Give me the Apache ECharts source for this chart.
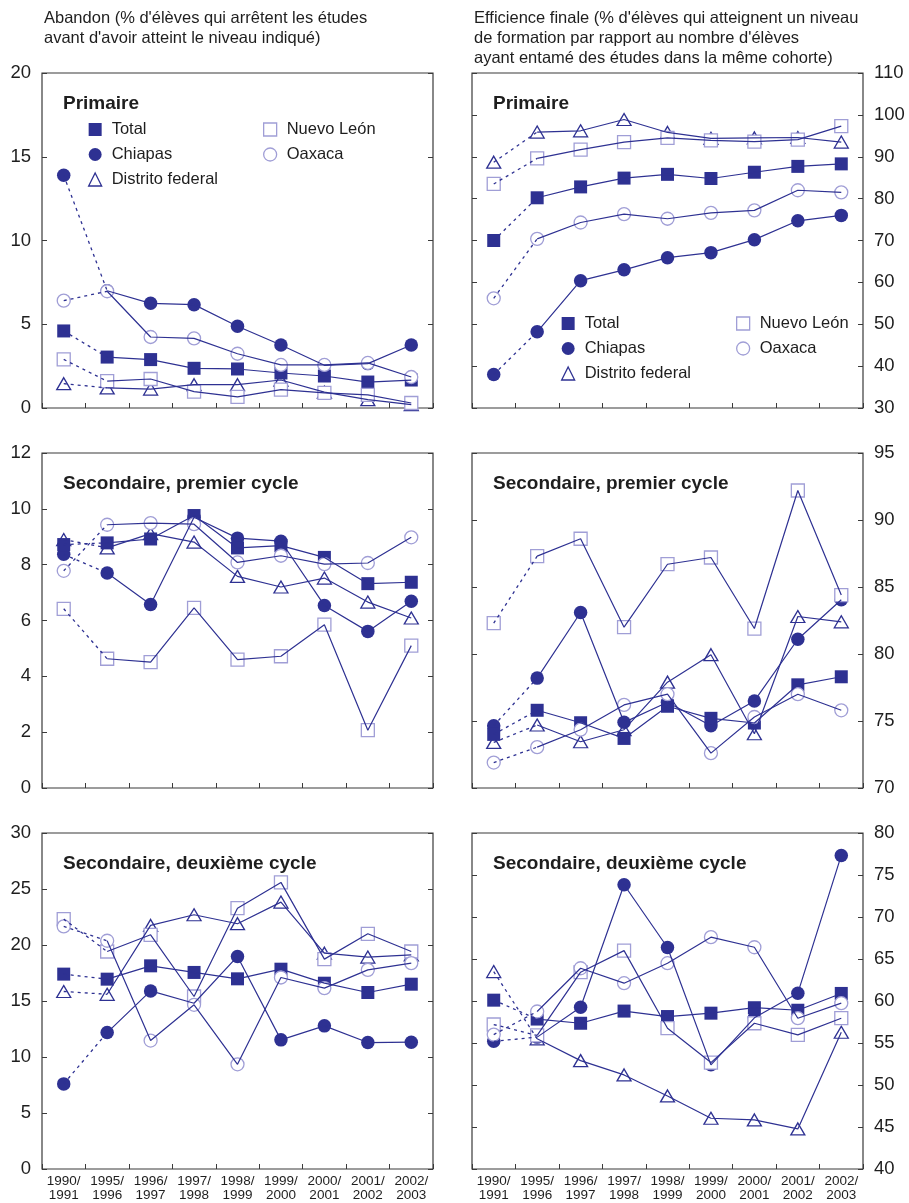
<!DOCTYPE html>
<html lang="fr">
<head>
<meta charset="utf-8">
<script src="https://cdn.jsdelivr.net/npm/echarts@6/dist/echarts.min.js"></script>
<style>
  html, body { margin: 0; padding: 0; background: #ffffff; }
  #chart { width: 909px; height: 1203px; }
</style>
</head>
<body>
<div id="chart"></div>
<script>
// School years on the horizontal axis
const categories = ['1990/\n1991', '1995/\n1996', '1996/\n1997', '1997/\n1998', '1998/\n1999',
                    '1999/\n2000', '2000/\n2001', '2001/\n2002', '2002/\n2003'];

// Abandon — Primaire
const abPrimTotal    = [4.6, 3.04, 2.89, 2.37, 2.33, 2.09, 1.91, 1.55, 1.67];
const abPrimChiapas  = [13.89, 7.0, 6.25, 6.17, 4.88, 3.76, 2.55, 2.65, 3.76];
const abPrimDF       = [1.45, 1.2, 1.13, 1.39, 1.39, 1.67, 0.95, 0.5, 0.2];
const abPrimNL       = [2.9, 1.6, 1.73, 0.98, 0.66, 1.1, 0.9, 0.78, 0.3];
const abPrimOaxaca   = [6.41, 6.97, 4.24, 4.16, 3.24, 2.57, 2.57, 2.69, 1.85];

// Efficience finale — Primaire
const efPrimTotal    = [70.0, 80.2, 82.8, 84.9, 85.8, 84.8, 86.3, 87.7, 88.3];
const efPrimChiapas  = [38.0, 48.2, 60.4, 63.0, 65.9, 67.1, 70.2, 74.7, 76.0];
const efPrimDF       = [88.7, 95.9, 96.2, 98.9, 95.8, 94.4, 94.5, 94.6, 93.5];
const efPrimNL       = [83.5, 89.6, 91.7, 93.5, 94.5, 93.9, 93.6, 94.1, 97.3];
const efPrimOaxaca   = [56.2, 70.4, 74.3, 76.3, 75.2, 76.6, 77.2, 82.0, 81.5];

// Abandon — Secondaire, premier cycle
const abSec1Total    = [8.72, 8.78, 8.92, 9.76, 8.6, 8.68, 8.26, 7.32, 7.37];
const abSec1Chiapas  = [8.37, 7.7, 6.57, 9.7, 8.95, 8.84, 6.54, 5.61, 6.69];
const abSec1DF       = [8.9, 8.6, 9.11, 8.81, 7.58, 7.2, 7.52, 6.66, 6.09];
const abSec1NL       = [6.42, 4.63, 4.51, 6.45, 4.6, 4.72, 5.85, 2.07, 5.1];
const abSec1Oaxaca   = [7.78, 9.43, 9.49, 9.45, 8.08, 8.32, 8.02, 8.06, 8.98];

// Efficience finale — Secondaire, premier cycle
const efSec1Total    = [74.0, 75.8, 74.87, 73.7, 76.1, 75.2, 74.85, 77.7, 78.3];
const efSec1Chiapas  = [74.65, 78.2, 83.1, 74.9, 76.4, 74.65, 76.5, 81.1, 84.05];
const efSec1DF       = [73.4, 74.7, 73.45, 74.35, 77.9, 79.95, 74.05, 82.8, 82.4];
const efSec1NL       = [82.3, 87.3, 88.6, 82.0, 86.7, 87.2, 81.9, 92.2, 84.4];
const efSec1Oaxaca   = [71.9, 73.05, 74.35, 76.2, 77.0, 72.6, 75.3, 77.0, 75.8];

// Abandon — Secondaire, deuxième cycle
const abSec2Total    = [17.4, 16.95, 18.14, 17.55, 16.98, 17.84, 16.59, 15.76, 16.5];
const abSec2Chiapas  = [7.6, 12.18, 15.9, 14.8, 18.98, 11.53, 12.78, 11.29, 11.32];
const abSec2DF       = [15.85, 15.6, 21.75, 22.7, 21.9, 23.83, 19.27, 18.92, 19.12];
const abSec2NL       = [22.31, 19.42, 20.91, 15.4, 23.29, 25.59, 18.74, 21.0, 19.42];
const abSec2Oaxaca   = [21.66, 20.38, 11.47, 14.66, 9.35, 17.1, 16.15, 17.78, 18.38];

// Efficience finale — Secondaire, deuxième cycle
const efSec2Total    = [60.1, 57.85, 57.35, 58.8, 58.15, 58.55, 59.2, 58.9, 60.9];
const efSec2Chiapas  = [55.2, 55.7, 59.26, 73.84, 66.37, 52.4, 58.0, 60.93, 77.33];
const efSec2DF       = [63.5, 55.5, 52.9, 51.2, 48.7, 46.04, 45.84, 44.77, 56.28];
const efSec2NL       = [57.2, 55.9, 63.43, 66.0, 56.76, 52.67, 57.35, 55.97, 57.95];
const efSec2Oaxaca   = [56.0, 58.75, 63.9, 62.12, 64.5, 67.6, 66.4, 57.95, 59.74];

// Axis ranges per panel
const yRanges = [
  { min: 0, max: 20, interval: 5 },  { min: 30, max: 110, interval: 10 },
  { min: 0, max: 12, interval: 2 },  { min: 70, max: 95, interval: 5 },
  { min: 0, max: 30, interval: 5 },  { min: 40, max: 80, interval: 5 }
];
const panelTitles = ['Primaire', 'Primaire', 'Secondaire, premier cycle', 'Secondaire, premier cycle',
                     'Secondaire, deuxième cycle', 'Secondaire, deuxième cycle'];
const seriesNames = ['Total', 'Chiapas', 'Distrito federal', 'Nuevo León', 'Oaxaca'];
const panelData = [
  [abPrimTotal, abPrimChiapas, abPrimDF, abPrimNL, abPrimOaxaca],
  [efPrimTotal, efPrimChiapas, efPrimDF, efPrimNL, efPrimOaxaca],
  [abSec1Total, abSec1Chiapas, abSec1DF, abSec1NL, abSec1Oaxaca],
  [efSec1Total, efSec1Chiapas, efSec1DF, efSec1NL, efSec1Oaxaca],
  [abSec2Total, abSec2Chiapas, abSec2DF, abSec2NL, abSec2Oaxaca],
  [efSec2Total, efSec2Chiapas, efSec2DF, efSec2NL, efSec2Oaxaca]
];

const FONT = "'Liberation Sans', Arial, Helvetica, sans-serif";
const DARK = '#2e3192';
const LIGHT = '#a09ed6';
const AXIS = '#3a3a3a';
const TEXT = '#1e1e1e';

// Marker look of each series; z keeps hollow markers above filled ones
const markerStyle = {
  'Total':            { symbol: 'rect',     size: 13,       fill: DARK,    stroke: DARK,  z: 4 },
  'Chiapas':          { symbol: 'circle',   size: 13.5,     fill: DARK,    stroke: DARK,  z: 3 },
  'Distrito federal': { symbol: 'triangle', size: [14, 12], fill: '#fff',  stroke: DARK,  z: 2 },
  'Nuevo León':       { symbol: 'rect',     size: 13,       fill: '#fff',  stroke: LIGHT, z: 5 },
  'Oaxaca':           { symbol: 'circle',   size: 13,       fill: '#fff',  stroke: LIGHT, z: 6 }
};

// Panel boxes
const colLeft = [42, 472];
const rowTop = [73, 453, 833];
const rowHeight = [335, 335, 336];
const boxWidth = 391;

const grids = [], xAxes = [], yAxes = [], series = [], titles = [];

for (let p = 0; p < 6; p++) {
  const col = p % 2, row = Math.floor(p / 2);
  grids.push({
    left: colLeft[col], top: rowTop[row], width: boxWidth, height: rowHeight[row],
    show: true, borderColor: AXIS, borderWidth: 1.2, backgroundColor: 'transparent'
  });
  xAxes.push({
    gridIndex: p, type: 'category', data: categories, boundaryGap: true,
    axisLine: { show: false },
    axisTick: { show: true, inside: true, length: 5, interval: 0, lineStyle: { color: AXIS, width: 1 } },
    axisLabel: row === 2
      ? { show: true, interval: 0, fontSize: 13.5, lineHeight: 13.5, margin: 6, color: TEXT, fontFamily: FONT }
      : { show: false },
    splitLine: { show: false }
  });
  const r = yRanges[p];
  const labelSide = col === 0 ? 'left' : 'right';
  const otherSide = col === 0 ? 'right' : 'left';
  [labelSide, otherSide].forEach((side, k) => {
    yAxes.push({
      gridIndex: p, type: 'value', position: side, min: r.min, max: r.max, interval: r.interval,
      axisLine: { show: false },
      axisTick: { show: true, inside: true, length: 5, lineStyle: { color: AXIS, width: 1 } },
      axisLabel: k === 0
        ? { show: true, fontSize: 18.5, margin: 11, color: TEXT, fontFamily: FONT }
        : { show: false },
      splitLine: { show: false }
    });
  });

  titles.push({
    text: panelTitles[p], left: colLeft[col] + 21, top: rowTop[row] + 21, padding: 0,
    textStyle: { fontSize: 19, fontWeight: 'bold', color: TEXT, fontFamily: FONT }
  });

  panelData[p].forEach((vals, s) => {
    const name = seriesNames[s];
    const m = markerStyle[name];
    const yIdx = p * 2;
    // markers
    series.push({
      type: 'scatter', name: name, xAxisIndex: p, yAxisIndex: yIdx,
      symbol: m.symbol, symbolSize: m.size, z: m.z, silent: true,
      itemStyle: { color: m.fill, borderColor: m.stroke, borderWidth: m.fill === DARK ? 0 : 1.3, opacity: 1 },
      data: vals.map((v, k) => [categories[k], v])
    });
    // dotted link from 1990/1991 to 1995/1996
    series.push({
      type: 'line', xAxisIndex: p, yAxisIndex: yIdx, z: 10, silent: true,
      showSymbol: false, symbol: 'none', connectNulls: false,
      lineStyle: { color: DARK, width: 1.3, type: [3, 4] },
      data: vals.map((v, k) => (k <= 1 ? v : '-'))
    });
    // solid line from 1995/1996 on
    series.push({
      type: 'line', xAxisIndex: p, yAxisIndex: yIdx, z: 10, silent: true,
      showSymbol: false, symbol: 'none', connectNulls: false,
      lineStyle: { color: DARK, width: 1.2, type: 'solid' },
      data: vals.map((v, k) => (k >= 1 ? v : '-'))
    });
  });
}

// Column headers
titles.push({
  text: "Abandon (% d'élèves qui arrêtent les études\navant d'avoir atteint le niveau indiqué)",
  left: 44, top: 8, padding: 0,
  textStyle: { fontSize: 16.5, fontWeight: 'normal', lineHeight: 20, color: TEXT, fontFamily: FONT }
});
titles.push({
  text: "Efficience finale (% d'élèves qui atteignent un niveau\nde formation par rapport au nombre d'élèves\nayant entamé des études dans la même cohorte)",
  left: 474, top: 8, padding: 0,
  textStyle: { fontSize: 16.5, fontWeight: 'normal', lineHeight: 20, color: TEXT, fontFamily: FONT }
});

function legendItem(name) {
  const m = markerStyle[name];
  return {
    name: name, icon: m.symbol === 'rect' ? 'rect' : m.symbol,
    itemStyle: { color: m.fill, borderColor: m.stroke, borderWidth: m.fill === DARK ? 0 : 1.3 }
  };
}
function legendBlock(names, left, top) {
  return {
    orient: 'vertical', left: left, top: top, padding: 0, itemGap: 8,
    itemWidth: 13, itemHeight: 13, selectedMode: false,
    textStyle: { fontSize: 16.5, lineHeight: 14, color: TEXT, fontFamily: FONT, padding: [0, 0, 0, 5] },
    data: names.map(legendItem)
  };
}
const legends = [
  legendBlock(['Total', 'Chiapas', 'Distrito federal'], 88, 121),
  legendBlock(['Nuevo León', 'Oaxaca'], 263, 121),
  legendBlock(['Total', 'Chiapas', 'Distrito federal'], 561, 315),
  legendBlock(['Nuevo León', 'Oaxaca'], 736, 315)
];

const chart = echarts.init(document.getElementById('chart'), null, { renderer: 'canvas' });
chart.setOption({
  backgroundColor: '#ffffff',
  animation: false,
  title: titles,
  legend: legends,
  grid: grids,
  xAxis: xAxes,
  yAxis: yAxes,
  series: series
});
</script>
</body>
</html>
